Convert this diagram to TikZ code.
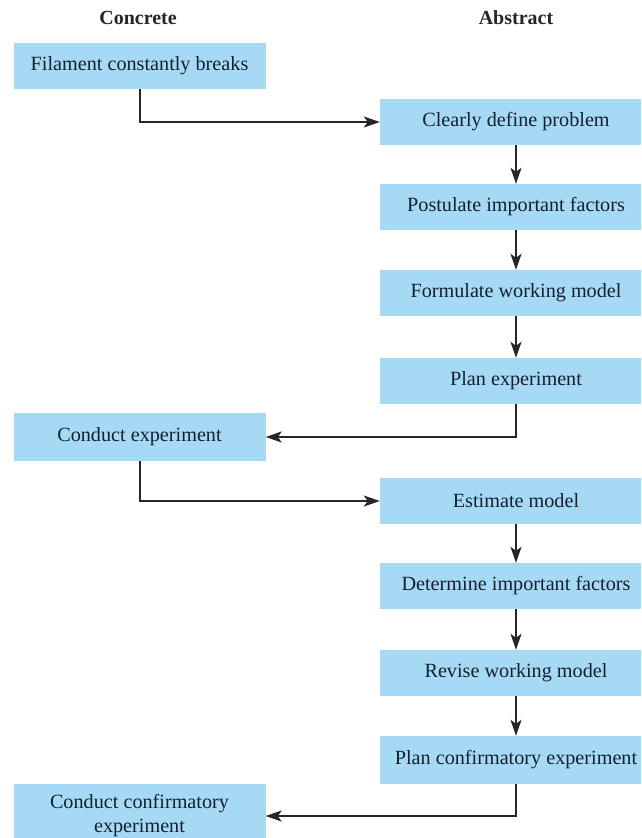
\documentclass[tikz,border=0pt]{standalone}
\usepackage{fontspec}
\setmainfont{Liberation Serif}
\usetikzlibrary{arrows.meta}
\definecolor{boxblue}{RGB}{166,218,244}
\definecolor{ink}{RGB}{20,32,50}
\newcommand{\bodysize}{\fontsize{20.2}{24}\selectfont}
\begin{document}
\begin{tikzpicture}[x=1pt,y=-1pt,
  box/.style={fill=boxblue, text=ink, font=\bodysize, inner sep=0pt, minimum height=46pt, align=center},
  lbox/.style={box, minimum width=252pt},
  rbox/.style={box, minimum width=272pt},
  conn/.style={line width=2pt, draw=black!85, -{Stealth[length=16pt,width=11pt,inset=4pt]}},
  head/.style={font=\bfseries\fontsize{20}{24}\selectfont, text=black!85, inner sep=0pt}]
\useasboundingbox (0,0) rectangle (641,838);
\clip (0,0) rectangle (641,838);
\fill[white] (0,0) rectangle (641,838);

\node[head] (hcon) at (138,18) {Concrete};
\node[head] (habs) at (516,18) {Abstract};

\node[lbox] (f) at (139.5,66) {Filament constantly breaks};
\node[rbox] (c1) at (516,122) {Clearly define problem};
\node[rbox] (c2) at (516,207) {Postulate important factors};
\node[rbox] (c3) at (516,293) {Formulate working model};
\node[rbox] (c4) at (516,381) {Plan experiment};
\node[lbox, minimum height=48pt] (ce) at (139.5,437) {Conduct experiment};
\node[rbox] (e1) at (516,501) {Estimate model};
\node[rbox] (e2) at (516,586) {Determine important factors};
\node[rbox] (e3) at (516,673) {Revise working model};
\node[rbox, minimum height=48pt] (e4) at (516,760) {Plan confirmatory experiment};
\node[lbox, minimum height=64pt] (cc) at (139.5,816) {Conduct confirmatory\\experiment};

\draw[conn] (f.south) |- (c1.west);
\draw[conn] (c1.south) -- (c2.north);
\draw[conn] (c2.south) -- (c3.north);
\draw[conn] (c3.south) -- (c4.north);
\draw[conn] (c4.south) |- (ce.east);
\draw[conn] (ce.south) |- (e1.west);
\draw[conn] (e1.south) -- (e2.north);
\draw[conn] (e2.south) -- (e3.north);
\draw[conn] (e3.south) -- (e4.north);
\draw[conn] (e4.south) |- (cc.east);
\end{tikzpicture}
\end{document}
